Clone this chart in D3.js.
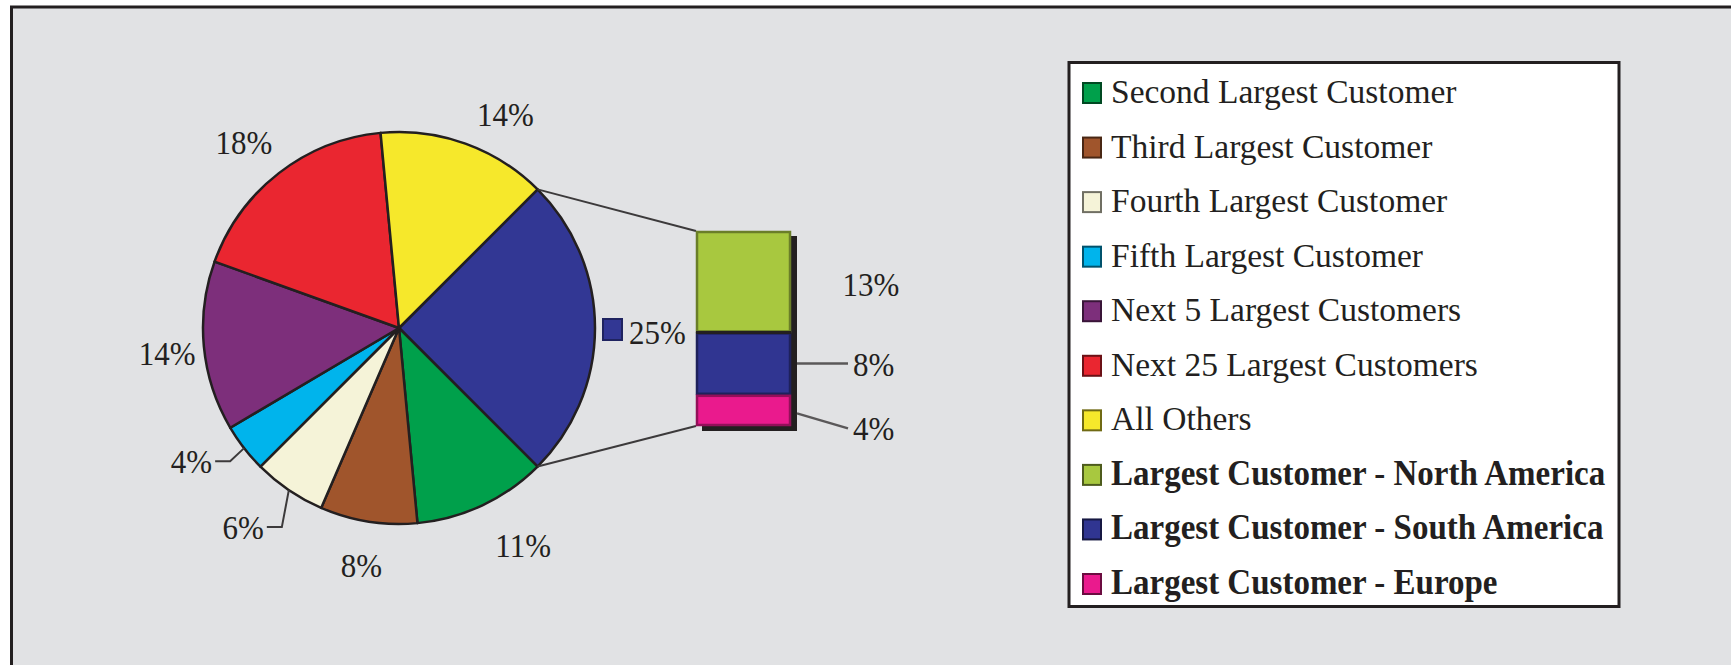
<!DOCTYPE html>
<html>
<head>
<meta charset="utf-8">
<script src="https://cdn.jsdelivr.net/npm/d3@7"></script>
<style>
  html, body { margin: 0; padding: 0; background: #ffffff; }
  svg { display: block; }
  text { font-family: "Liberation Serif", "Times New Roman", serif; fill: #231f20; }
</style>
</head>
<body>
<svg id="chart" width="1731" height="665"></svg>
<script>
// Customer revenue share: pie of customer groups, with the largest
// customer broken out by region in a stacked bar.
const pieNames = [
  "Largest Customer",
  "Second Largest Customer",
  "Third Largest Customer",
  "Fourth Largest Customer",
  "Fifth Largest Customer",
  "Next 5 Largest Customers",
  "Next 25 Largest Customers",
  "All Others"
];
const pieValues = [25, 11, 8, 6, 4, 14, 18, 14];
const pieColors = ["#323794", "#00a04b", "#a0552c", "#f5f3d8", "#00b4ec", "#7d2f7b", "#ea2630", "#f6e82b"];

const barNames = [
  "Largest Customer - North America",
  "Largest Customer - South America",
  "Largest Customer - Europe"
];
const barValues = [13, 8, 4];
const barColors = ["#a8c83f", "#303591", "#ea1a8d"];

const legendNames = pieNames.slice(1).concat(barNames);
const legendColors = pieColors.slice(1).concat(barColors);
const legendBold = legendNames.map((d, i) => i >= pieNames.length - 1);

const fmt = v => v + "%";

// ---- layout ----
const W = 1731, H = 665;
const ink = "#231f20";
const stretch = 1.12;      // tall serif lettering
const fontSize = 31;

const svg = d3.select("#chart");

// framed panel
svg.append("rect")
  .attr("x", 11.5).attr("y", 7)
  .attr("width", W + 20).attr("height", H + 20)
  .attr("fill", "#e1e2e4").attr("stroke", ink).attr("stroke-width", 3);

function label(g, x, y, str, opts = {}) {
  return g.append("text")
    .attr("transform", `translate(${x},${y}) scale(1,${opts.sy || stretch})`)
    .attr("text-anchor", opts.anchor || "start")
    .attr("font-size", opts.size || fontSize)
    .attr("font-weight", opts.bold ? "bold" : "normal")
    .text(str);
}

// ---- pie ----
const cx = 399, cy = 328, R = 196;
const startA = Math.PI / 4;
const pie = d3.pie().sort(null).value(d => d)
  .startAngle(startA).endAngle(startA + 2 * Math.PI);
const arcs = pie(pieValues);
const arc = d3.arc().innerRadius(0).outerRadius(R);
const labelArc = d3.arc().innerRadius(240).outerRadius(240);

const gPie = svg.append("g").attr("transform", `translate(${cx},${cy})`);
gPie.selectAll("path.slice")
  .data(arcs)
  .join("path")
  .attr("class", "slice")
  .attr("d", arc)
  .attr("fill", (d, i) => pieColors[i])
  .attr("stroke", ink)
  .attr("stroke-width", 2.5)
  .attr("stroke-linejoin", "round");

const polar = (a, r) => [r * Math.sin(a), -r * Math.cos(a)];
const mid = d => (d.startAngle + d.endAngle) / 2;

// label placement tweaks (pixels) and leader elbows for thin slices
const labelNudge = { 7: [25, 12], 1: [22, 0], 6: [-8, 4], 5: [7, 2] };
const leaderElbow = { 4: [-14, 13], 3: [-7, 37] };
const digitHalf = 12;

arcs.forEach((d, i) => {
  if (i === 0) return; // the broken-out slice gets its own keyed label
  if (leaderElbow[i]) {
    const e = polar(mid(d), R);
    const k = [e[0] + leaderElbow[i][0], e[1] + leaderElbow[i][1]];
    const t = [k[0] - 15, k[1]];
    gPie.append("polyline")
      .attr("points", [e, k, t].map(p => p.join(",")).join(" "))
      .attr("fill", "none").attr("stroke", "#3c3a3b").attr("stroke-width", 2);
    label(gPie, t[0] - 3, t[1] + digitHalf, fmt(pieValues[i]), { anchor: "end" });
  } else {
    const c = labelArc.centroid(d);
    const n = labelNudge[i] || [0, 0];
    label(gPie, c[0] + n[0], c[1] + n[1] + digitHalf, fmt(pieValues[i]), { anchor: "middle" });
  }
});

// keyed label for the largest customer slice
{
  const e = polar(mid(arcs[0]), R);
  const sx = e[0] + 8, sy = e[1];
  gPie.append("rect")
    .attr("x", sx).attr("y", sy - 9)
    .attr("width", 19).attr("height", 21)
    .attr("fill", pieColors[0]).attr("stroke", "#1f2360").attr("stroke-width", 2);
  label(gPie, sx + 26, sy + digitHalf + 4, fmt(pieValues[0]));
}

// ---- stacked bar for the largest customer ----
const bx0 = 696, bx1 = 791;
const total = d3.sum(barValues);
const yBar = d3.scaleLinear().domain([0, total]).range([231, 426]);
const stack = [];
barValues.reduce((acc, v, i) => { stack.push({ i, y0: acc, y1: acc + v, v }); return acc + v; }, 0);

const gBar = svg.append("g");

// connector lines from the slice edges to the bar
const pA = polar(arcs[0].startAngle, R), pB = polar(arcs[0].endAngle, R);
gBar.append("line")
  .attr("x1", cx + pA[0]).attr("y1", cy + pA[1])
  .attr("x2", bx0).attr("y2", yBar(0))
  .attr("stroke", "#3c3a3b").attr("stroke-width", 2);
gBar.append("line")
  .attr("x1", cx + pB[0]).attr("y1", cy + pB[1])
  .attr("x2", bx0).attr("y2", yBar(total))
  .attr("stroke", "#3c3a3b").attr("stroke-width", 2);

// drop shadow
gBar.append("rect")
  .attr("x", bx0 + 6).attr("y", yBar(0) + 5)
  .attr("width", bx1 - bx0).attr("height", yBar(total) - yBar(0))
  .attr("fill", ink);

gBar.selectAll("rect.seg")
  .data(stack)
  .join("rect")
  .attr("class", "seg")
  .attr("x", bx0 + 1).attr("y", d => yBar(d.y0) + 1)
  .attr("width", bx1 - bx0 - 2).attr("height", d => yBar(d.y1) - yBar(d.y0) - 2)
  .attr("fill", d => barColors[d.i])
  .attr("stroke", d => d3.color(barColors[d.i]).darker(1.3))
  .attr("stroke-width", 2.5);

// separator between the top two segments
gBar.append("line")
  .attr("x1", bx0).attr("x2", bx1)
  .attr("y1", yBar(stack[1].y0)).attr("y2", yBar(stack[1].y0))
  .attr("stroke", ink).attr("stroke-width", 3);

// bar labels
const barLabelX = bx1 + 57;
stack.forEach((d, idx) => {
  const ym = (yBar(d.y0) + yBar(d.y1)) / 2;
  if (idx === 0) {
    label(gBar, barLabelX + 23, ym + digitHalf + 2, fmt(d.v), { anchor: "middle" });
  } else {
    const drop = idx === 2 ? 18 : 0;
    gBar.append("line")
      .attr("x1", bx1 + 6).attr("y1", ym + (idx === 2 ? 3 : 0))
      .attr("x2", barLabelX).attr("y2", ym + drop)
      .attr("stroke", "#5a5859").attr("stroke-width", 2.5);
    label(gBar, barLabelX + 5, ym + drop + digitHalf, fmt(d.v));
  }
});

// ---- legend ----
const lx = 1069, ly = 62.5, lw = 550, lh = 544;
const gLeg = svg.append("g");
gLeg.append("rect")
  .attr("x", lx).attr("y", ly).attr("width", lw).attr("height", lh)
  .attr("fill", "#ffffff").attr("stroke", ink).attr("stroke-width", 3);

const yLeg = d3.scalePoint().domain(legendNames).range([82, 573]);
const items = gLeg.selectAll("g.item")
  .data(legendNames)
  .join("g")
  .attr("class", "item")
  .attr("transform", d => `translate(1082,${yLeg(d)})`);

items.append("rect")
  .attr("x", 1).attr("y", 1)
  .attr("width", 18).attr("height", 20)
  .attr("fill", (d, i) => legendColors[i])
  .attr("stroke", (d, i) => d3.color(legendColors[i]).darker(2.2))
  .attr("stroke-width", 2);

items.each(function (d, i) {
  label(d3.select(this), 29, 21, d, {
    bold: legendBold[i],
    size: legendBold[i] ? 33 : 33.5,
    sy: legendBold[i] ? 1.06 : 1.0
  });
});
</script>
</body>
</html>
